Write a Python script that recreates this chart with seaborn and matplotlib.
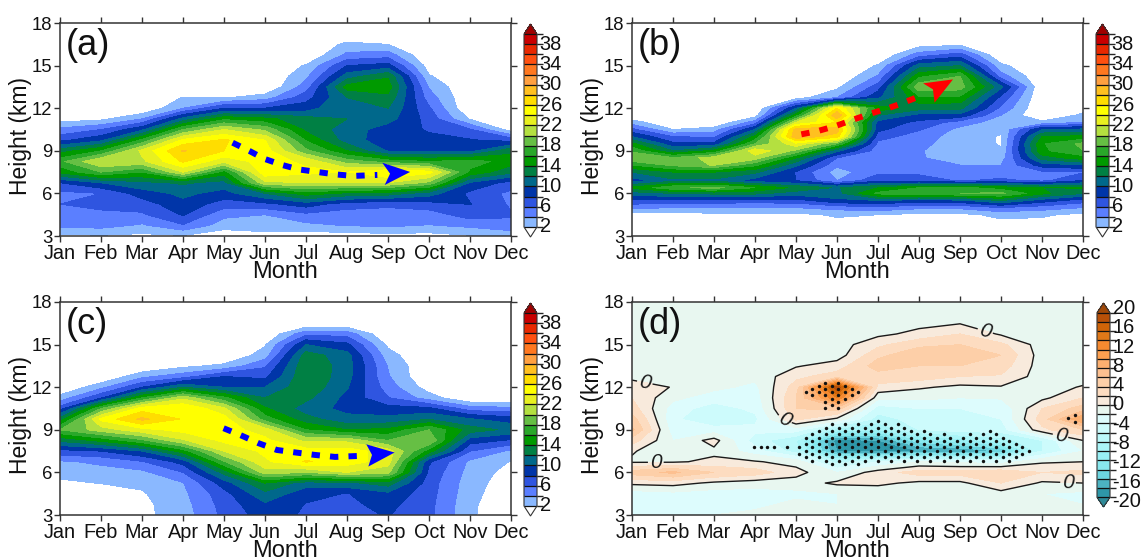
import numpy as np
import matplotlib
matplotlib.use("Agg")
import matplotlib.pyplot as plt
from matplotlib.colors import ListedColormap, BoundaryNorm
import seaborn as sns

months = ["Jan","Feb","Mar","Apr","May","Jun","Jul","Aug","Sep","Oct","Nov","Dec"]
height_ticks = [3,6,9,12,15,18]
heights = [3,3.75,4.5,5.25,6,6.75,7.5,8.25,9,9.75,10.5,11.25,12,12.75,13.5,14.25,15,15.75,16.5,17.25,18]
heights_b = [3,4.5,5,5.5,6,6.4,6.9,7.5,8,8.5,9,9.5,10,10.5,11,11.5,12,12.75,13.5,14.25,15,15.75,16.5,18]

# one list per month, from 3 km upward
panel_a = [
 [1.5,4.5,5.2,6,5.5,8,14.5,17.5,13,7.5,4.5,1],
 [1.8,4.8,5.6,6.5,6,10,18,22,16,9.5,6,1.5],
 [1.5,3.7,5.7,7,9,11.5,16,21.5,22.5,16.5,9.5,4],
 [1.8,5.8,8.2,9.4,10.5,12.3,22,26.3,28.2,24.5,18,10.7,4,2.1],
 [0.5,3,4.5,7,9.2,11.3,15,22.5,26,26.3,22,15.5,8,1.8],
 [1,3.5,4,7.5,12,21.5,25.5,25,25,24,19.5,14.5,8,3],
 [0.8,3.5,5.5,9,15,22,24.5,23.5,18.5,15.8,13.5,12.8,9,7.2,5,3.5,2.2],
 [1,4.1,5,7,13.5,22,24,19,14,11,11,12,12,12,14.8,11,8,4.5,2.5],
 [1.2,4.4,5,6.5,13,22,26,17,9.8,8.8,9,10.8,12,13.5,15,13.8,8.8,5,2],
 [1.2,3.9,5,7.2,11,19.5,24.8,16,9.5,8.5,7.8,7.2,6.3,5,3.8,2.2,1],
 [1.8,4.5,7,8.1,7.5,9.8,15.5,17,9.3,8.2,6.2,1.8],
 [2.5,5.5,6.2,5.7,5.5,7.2,12.5,15,13.5,7.3,1],
]
panel_b = [
 [0,1,4.6,7.5,11,14.5,9,12,16,20,17.5,14.5,10,6.5,3],
 [0,1,4,7.2,12,17.5,11.5,14,18.5,18.3,12,8.5,6,2],
 [0,1.5,4,7.2,12.5,18.7,11.5,14,20.2,21,14.5,8.5,5.6,3],
 [0,1.5,4,7,12.5,16,9,12.5,16.5,21,23.5,18,14.5,10,5,1],
 [0,1.5,4,7.2,11,13.5,8,7.8,10.5,14,19.5,23.5,29.5,29,22,15,10,1],
 [0,2.3,4.8,9.5,11.3,11.8,4,3,4.5,6,10.5,18,27,29,26,30,26,4,1.5],
 [0,2,5.5,10,16.5,14,7.5,5.5,5,4.8,5,5.5,6.8,8.5,9.3,12,15.2,9.5,7,4.2,2.2],
 [0,1.5,4.5,9,17.5,16,7,5.5,4.5,4.2,4.2,4.5,5,6.2,7.5,9.3,12.8,15.5,19.5,15.5,11,5,1],
 [0,1.5,4.5,9.5,18,16.5,5.8,4.6,4,3,2.6,3,3,3.4,5,9.3,12.5,15.5,19,18,12,7,1.5],
 [0,2.5,6,12,18.5,15,6.5,4.6,4,3,2.2,1.85,1.85,2.3,3,4,5.5,7.5,10.5,5,2.5],
 [0,2.3,5,9,14.5,14,5.5,5.5,9,13,15.5,15.8,14,10,2.5],
 [0,1.5,4,7,12,14.2,8,5.8,10,15,18,18.5,14.5,10.5,4,2.5,1],
]
panel_c = [
 [0,0,0,1.5,2.8,3.7,7.3,12.5,18,13,7,2.8],
 [0,0,0,2.1,3.2,4.4,8,14.5,21,24.5,18,7.8,3.4],
 [1.5,1.5,1.8,2.4,3.5,5.8,10,17.5,23.3,28.5,25,16,8,3.5],
 [3,3.2,3.5,3.9,6,8.8,15,21.7,24.7,25.8,26,21.5,12,5.2,1.5],
 [6.5,6.8,7.3,9,12.7,17.8,22,24.5,25,25,22.4,16.5,10,8,2.5],
 [9,9.7,11.5,14,21,23.6,24.5,24.5,23,17,14.3,12,10,7.5,5.7,3,1.8],
 [7.7,7.9,8.7,11,20,26.2,25,21.5,16,12.8,11,12.5,13.5,13.8,13.7,13,10,5.5],
 [7.5,7.6,7.9,11.5,22,25,25,21.5,14,10.6,9.4,9.4,10.2,10.8,11,10.8,8.5,5.2],
 [8.1,8.6,9.5,13,20.5,23,23,18,14.5,10.6,8.8,6.1,5,4.2,3.9,2.8,1.6],
 [6.5,6.6,6.8,7,7.5,8.3,15,20,18,12,8.5,3,1],
 [2.4,2.5,2.7,2.9,3.2,3.6,6,9,13,10.2,5],
 [0,0,0.5,0.8,1.2,1.9,3.6,7.7,11.5,9,4.5],
]
panel_d = [
 [-2,-3,-3,0.5,5,-0.3,0.2,3,6.5,5,3,2,1,-0.5],
 [-2.5,-3,-2.5,0.8,6.5,-0.3,-1.5,-2,-3,-3.5,-3,-1.5,-0.1],
 [-2,-3,-3,-0.4,4,0.5,-0.5,0.8,-3,-6,-5,-3,-1.5],
 [-1.5,-2.5,-3,-1,3,0.2,-3,-5,-3.5,-4.5,-3.5,-3,-2.5,-1.5],
 [-1,-1.5,-2.5,-1,0.8,-0.8,-7,-8,-3,2.5,4,4,3,1.5,-0.2],
 [-1.5,-2,-2,0.4,-2,-7,-18,-19,-9,-0.5,5,14,19.5,3,1],
 [-1,-1,-1.5,0.5,1,-4,-19,-18,-10,-7,-5,-1.5,1.5,3,5,3.5,1.5,-0.5],
 [-0.5,-1,-0.8,-0.5,3,-2,-18,-13,-6,-5,-4,-1.5,0.3,3,4,5.5,3.5,0.6,-0.6],
 [-1,-0.5,-0.8,-0.5,3,-2.5,-18,-11,-5,-5,-4,-2,-0.5,2,4,5.5,4,2,-0.1],
 [-1,-0.8,-0.8,2,3.5,-3,-16,-9,-5,-4,-3.5,-1.8,-0.2,1.8,3,4,2.5,-0.3],
 [-0.5,-1.5,-2,-0.3,2,-0.3,-6,-6,1.5,3,2,-0.5],
 [-1,-2,-2.5,0,2.5,0,-2,0,4,10,5,2,0.2],
]

levels_wind = list(range(2,42,2))
levels_diff = list(range(-20,22,2))
colors_wind = ["#8ab8ff","#5b7fff","#2f55e0","#0035a8","#00688b","#008044","#009a00","#2aa82a","#66bf44",
               "#b4e040","#e8f020","#ffff00","#ffdd00","#ffc020","#ffa040","#ff7820","#ff5010","#e82800","#c80000"]
colors_diff = ["#2e97a8","#4cb3c2","#6dd5e0","#88e8ee","#99f0f5","#aaf5f8","#bbf8fa","#cdfbfc","#ddfcfd","#e8f7f0",
               "#f8eadc","#fddcc0","#fdcfa8","#fdc090","#fdb070","#fda050","#f58a30","#e07818","#d06408","#b85008"]

# significance stippling: lattice columns (top row, bottom row)
stip_low_top = [8,5,4,3,2,1,2,1,2,1,2,1,0,1,2,1,2,3,4,3,4,5,4,5,6,5,4,5,4,3,4,5,6,7,8,9]
stip_low_bot = [10,11,12,11,12,13,12,13,12,13,12,11,12,11,12,11,12,11,12,11,12,11,12,11,12,11,12,11,12,11,12,11,12,11,10,9]
stip_high_rows = [[3],[2,4],[1,3],[0,2,4,6,8],[1,3,5,7],[0,2,4,6,8],[1,3,5],[2,4],[3]]
stip_extra_x = [2.98,3.15,3.3,3.47,3.79,10.63,10.8,10.8]
stip_extra_y = [7.76,7.76,7.76,7.76,7.76,9.81,10.05,9.58]

arrow_a_x = [4.21,4.62,4.97,5.42,5.82,6.27,6.71,7.16,7.74]
arrow_a_y = [9.57,8.99,8.45,8.0,7.69,7.51,7.34,7.23,7.3]
head_a = ([8.54,7.86,8.05,7.92],[7.51,8.16,7.39,6.59])
arrow_b_x = [4.13,4.53,4.97,5.42,5.82,6.22,6.58,7.03]
arrow_b_y = [10.16,10.39,10.75,11.22,11.62,11.97,12.34,12.86]
head_b = ([7.83,7.10,7.34,7.38],[14.03,13.75,13.33,12.39])
arrow_c_x = [3.99,4.39,4.84,5.29,5.78,6.22,6.71,7.29]
arrow_c_y = [9.11,8.64,8.06,7.58,7.39,7.23,7.09,7.16]
head_c = ([8.16,7.47,7.61,7.52],[7.40,7.98,7.23,6.41])

zero_labels = [(0.33,12.6),(0.58,7.0),(3.74,9.9),(8.66,16.4),(10.46,8.7),(10.64,5.6)]

sns.set_theme(style="ticks")
plt.rcParams["font.family"] = ["Liberation Sans", "DejaVu Sans"]
W, H = 1144, 560
fig = plt.figure(figsize=(W/100, H/100), dpi=100)

def rect(l, t, r, b):
    return [l/W, 1-b/H, (r-l)/W, (b-t)/H]

def grid(rows, nh, fill):
    return np.array([r + [fill]*(nh-len(r)) for r in rows], float).T

def panel(pos, cpos, z, hs, levels, cols, under, over, label, stretch=1.0):
    ax = fig.add_axes(rect(*pos))
    cmap = ListedColormap(sns.color_palette(cols, len(cols)))
    cmap.set_under(under); cmap.set_over(over)
    norm = BoundaryNorm(levels, cmap.N)
    cf = ax.contourf(np.arange(12), hs, z, levels=levels, cmap=cmap, norm=norm, extend="both")
    ax.set_xlim(0,11); ax.set_ylim(3,18)
    ax.set_xticks(range(12)); ax.set_xticklabels(months)
    ax.set_yticks(height_ticks)
    ax.tick_params(axis="both", which="both", direction="out", length=4, width=1, color="#333333",
                   labelcolor="#111111", pad=1.5, top=True, right=True)
    ax.tick_params(axis="x", labelsize=14.3)
    ax.tick_params(axis="y", labelsize=13.3)
    for s in ax.spines.values():
        s.set_linewidth(1.1); s.set_color("#333333")
    ax.set_xlabel("Month", fontsize=17, labelpad=-1.5, color="#111111")
    ax.set_ylabel("Height (km)", fontsize=16.5, labelpad=0, y=0.47, color="#111111")
    ax.text(0.13, 16.4, label, fontsize=26, va="center", ha="left", color="#111111")
    cax = fig.add_axes(rect(*cpos))
    cb = fig.colorbar(cf, cax=cax, extend="both", extendfrac=0.052, drawedges=True)
    cb.set_ticks([])
    cb.dividers.set_color("#111111"); cb.dividers.set_linewidth(0.9)
    cb.outline.set_edgecolor("#333333"); cb.outline.set_linewidth(0.8)
    lo, hi = levels[0], levels[-1]
    for v in levels[::2]:
        if hi == 40 and v == 40:
            continue
        frac = 0.5 + ((v-lo)/(hi-lo)-0.5)*stretch
        cax.text(1.2, frac, str(v), transform=cax.transAxes, fontsize=14.4, va="center", ha="left",
                 color="#111111", clip_on=False)
    return ax

def arrow(ax, xs, ys, head, color):
    sns.lineplot(x=xs, y=ys, ax=ax, color=color, sort=False, estimator=None, lw=4.3,
                 linestyle=(0,(1.4,1.7)), dash_capstyle="butt", legend=False)
    ax.fill(head[0], head[1], color=color, lw=0, zorder=5)

axa = panel((60,23,511,236),(524,24,537,237), grid(panel_a,len(heights),0), heights, levels_wind, colors_wind, "white", "#a00000", "(a)")
arrow(axa, arrow_a_x, arrow_a_y, head_a, "#0000ff")
axb = panel((632,23,1083,236),(1096,24,1109,237), grid(panel_b,len(heights_b),0), heights_b, levels_wind, colors_wind, "white", "#a00000", "(b)")
arrow(axb, arrow_b_x, arrow_b_y, head_b, "#ff0000")
axc = panel((60,302,511,515),(524,303,537,516), grid(panel_c,len(heights),0), heights, levels_wind, colors_wind, "white", "#a00000", "(c)")
arrow(axc, arrow_c_x, arrow_c_y, head_c, "#0000ff")
D = grid(panel_d,len(heights),-1)
axd = panel((632,302,1083,515),(1097,303,1110,507), D, heights, levels_diff, colors_diff, "#2e8a98", "#a04808", "(d)", stretch=1.043)
cs = axd.contour(np.arange(12), heights, D, levels=[0], colors="k", linewidths=1.0)
for t in axd.clabel(cs, fmt="%d", manual=zero_labels, fontsize=15, inline=True, inline_spacing=2):
    t.set_fontstyle("italic")

sx, sy = [], []
for k,(t,b) in enumerate(zip(stip_low_top, stip_low_bot)):
    for r in range(t, b+1, 2):
        sx.append(4.08+0.16*k); sy.append(9.62-0.233*r)
for c,rows in enumerate(stip_high_rows):
    for r in rows:
        sx.append(4.235+0.16*c); sy.append(12.33-0.228*r)
sx += stip_extra_x; sy += stip_extra_y
sns.scatterplot(x=sx, y=sy, ax=axd, color="#111111", s=6, linewidth=0, zorder=6, legend=False)

fig.savefig("out.png", dpi=100)
